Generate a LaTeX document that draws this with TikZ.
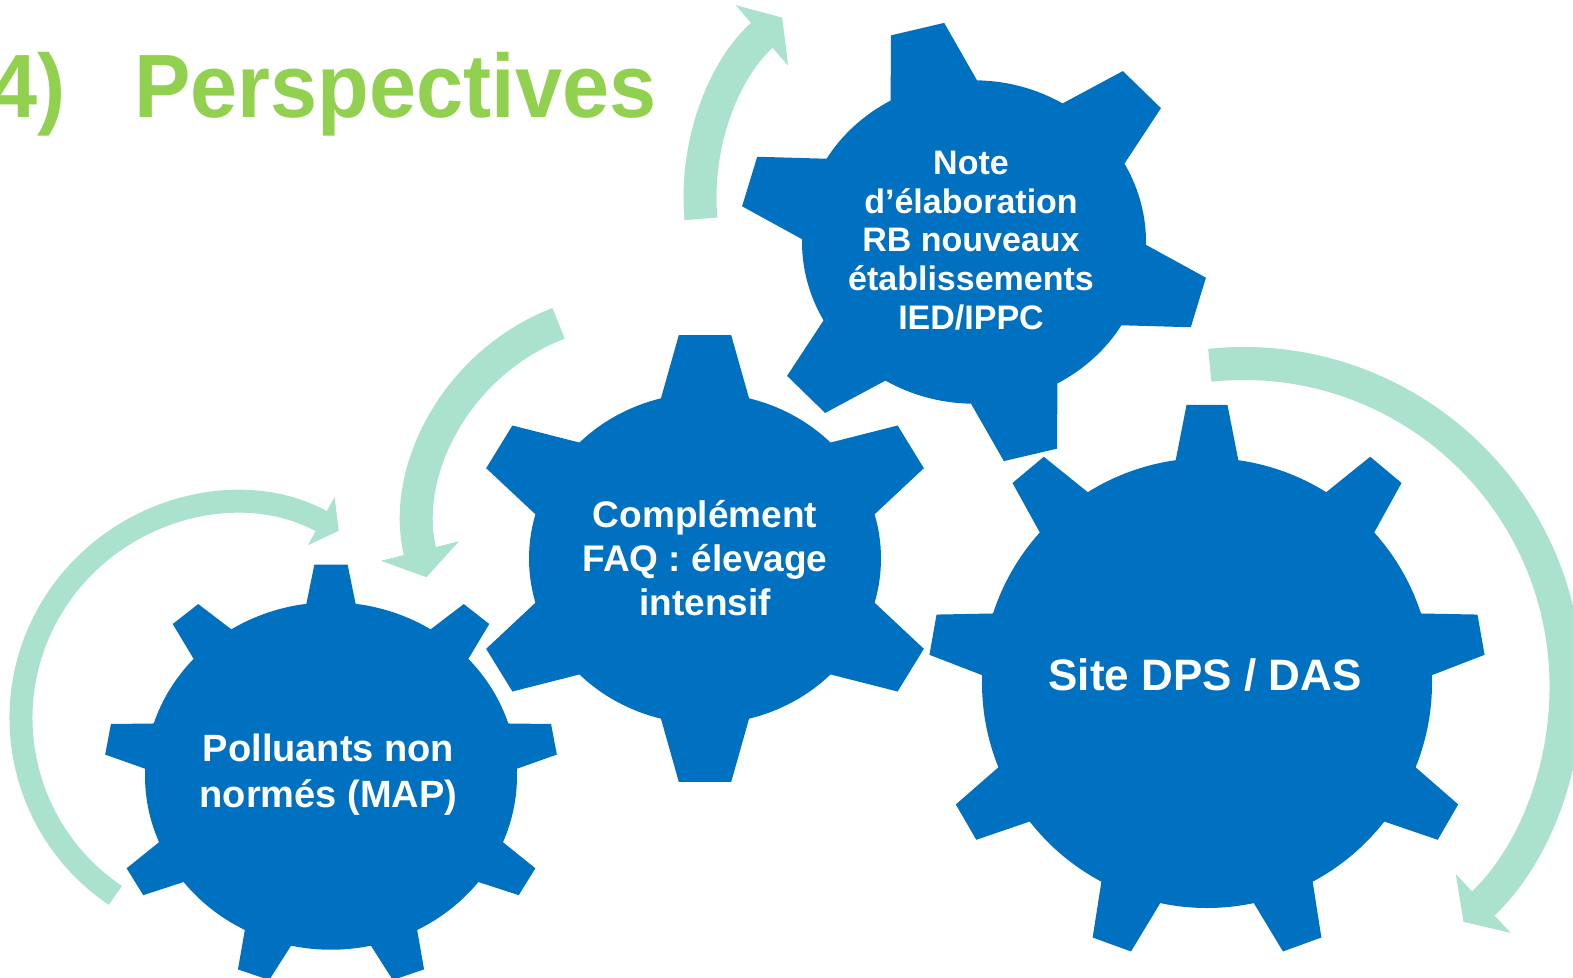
\documentclass[tikz,border=0pt]{standalone}
\usepackage{fontspec}
\setmainfont{Liberation Sans}
\newfontfamily\titlefont[FakeStretch=0.94]{Liberation Sans}
\usepackage{tikz}
\usetikzlibrary{arrows.meta,calc}

\definecolor{gearblue}{HTML}{0070C0}
\definecolor{cyclegreen}{HTML}{ABE2CD}
\definecolor{titlegreen}{HTML}{92D050}

\begin{document}
\begin{tikzpicture}[x=1pt, y=-1pt,
    gear/.style={fill=gearblue},
    gear label/.style={text=white, align=center, inner sep=0pt},
    cycle arrow/.style={draw=cyclegreen, line width=33pt, -{Triangle[length=27pt, width=79pt]}},
    small cycle arrow/.style={cycle arrow, line width=23pt, -{Triangle[length=20pt, width=54pt]}}]

  \useasboundingbox (0,0) rectangle (1573,977);
  \clip (0,0) rectangle (1573,977);

  % title
  \node[anchor=base west, inner sep=0pt, text=titlegreen,
        font=\titlefont\bfseries\fontsize{90}{90}\selectfont] (title) at (-10,117) {4)\hspace{69pt}Perspectives};

  % rotation arrows (centre of each turn)
  \coordinate (mapturn) at (235,718);
  \coordinate (faqturn) at (636,525);
  \coordinate (noteturn) at (939,198);
  \coordinate (siteturn) at (1243.5,686);

  \draw[small cycle arrow] ($(mapturn)+(124:214)$) arc[start angle=124, end angle=299, radius=214];
  \draw[cycle arrow] ($(faqturn)+(249:216)$) arc[start angle=249, end angle=166, radius=216];
  \draw[cycle arrow] ($(noteturn)+(175:239)$) arc[start angle=175, end angle=229, radius=239];
  \draw[cycle arrow] ($(siteturn)+(264:322.5)$) arc[start angle=264, end angle=407, radius=322.5];

  % gears: centre / teeth / tip radius / root radius / root half-angle / tip half-angle / phase / yscale
  \foreach \cx/\cy/\n/\R/\r/\bw/\tw/\ph/\ys in {974/242/6/235/172/15/6.7/256/0.94,
      705/558.5/6/239/176/14.5/6.3/270/0.94,
      331/776/9/227/186/7.6/4.2/270/0.934,
      1207/683/9/279/225/8/4.2/270/1}
  {
    \begin{scope}[shift={(\cx,\cy)}, yscale=\ys]
      \fill[gear] (\ph-\bw:\r)
        \foreach \k [evaluate=\k as \a using \ph+(\k-1)*360/\n] in {1,...,\n}
          { -- (\a-\tw:\R) -- (\a+\tw:\R) -- (\a+\bw:\r)
            arc[start angle=\a+\bw, end angle=\a+360/\n-\bw, radius=\r] } -- cycle;
    \end{scope}
  }

  % labels
  \node[gear label, font=\bfseries\fontsize{34}{38.7}\selectfont] (note) at (971,240.5)
    {Note\\d’élaboration\\RB nouveaux\\établissements\\IED/IPPC};
  \node[gear label, font=\bfseries\fontsize{37}{44}\selectfont] (faq) at (705,558)
    {Complément\\FAQ : élevage\\intensif};
  \node[gear label, font=\bfseries\fontsize{38}{46.6}\selectfont] (map) at (328.5,774.5)
    {Polluants non\\normés (MAP)};
  \node[gear label, font=\bfseries\fontsize{44}{50}\selectfont] (site) at (1205,675)
    {Site DPS / DAS};
\end{tikzpicture}
\end{document}
